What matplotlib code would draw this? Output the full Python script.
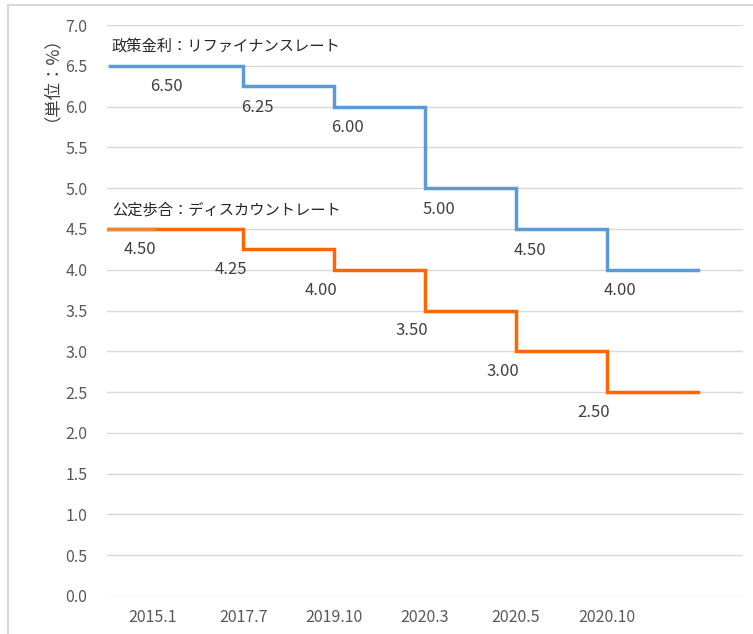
import matplotlib
matplotlib.use("Agg")
import matplotlib.pyplot as plt
from matplotlib.patches import Rectangle

plt.rcParams['font.family'] = ['Noto Sans CJK JP', 'DejaVu Sans']

categories = ["2015.1", "2017.7", "2019.10", "2020.3", "2020.5", "2020.10"]
refi_rate = [6.50, 6.25, 6.00, 5.00, 4.50, 4.00]
discount_rate = [4.50, 4.25, 4.00, 3.50, 3.00, 2.50]
refi_name = "政策金利：リファイナンスレート"
discount_name = "公定歩合：ディスカウントレート"
y_ticks = [i * 0.5 for i in range(15)]

W, H = 753, 634
fig = plt.figure(figsize=(W / 100, H / 100), dpi=100)
ax = fig.add_axes([107 / W, (H - 596) / H, (743 - 107) / W, (596 - 25) / H])

n = len(categories)
ax.set_xlim(-0.5, n + 0.5)
ax.set_ylim(0, 7)

for y in y_ticks:
    ax.axhline(y, color="#D9D9D9", lw=1.0, zorder=1)

def step_line(values, start):
    xs = [start] + list(range(1, n + 1))
    ys = list(values) + [values[-1]]
    return xs, ys

bx, by = step_line(refi_rate, -0.47)
ax.plot(bx, by, drawstyle="steps-post", color="#5B9BD5", lw=2.5, zorder=3,
        solid_joinstyle="miter")
ox, oy = step_line(discount_rate, -0.52)
ax.plot(ox, oy, drawstyle="steps-post", color="#FF6600", lw=2.5, zorder=3,
        solid_joinstyle="miter")
ax.plot([-0.52, 0.03], [discount_rate[0]] * 2, color="#F0843A", lw=2.5, zorder=4,
        solid_capstyle="butt")

for i, v in enumerate(refi_rate):
    ax.text(i + 0.15, v - 0.26, f"{v:.2f}", ha="center", va="center",
            fontsize=12, color="#404040", zorder=5)
for i, v in enumerate(discount_rate):
    ax.text(i - 0.14, v - 0.25, f"{v:.2f}", ha="center", va="center",
            fontsize=12, color="#404040", zorder=5)

ax.text(-0.445, 6.74, refi_name, ha="left", va="center", fontsize=11, color="#262626")
ax.text(-0.445, 4.73, discount_name, ha="left", va="center", fontsize=11, color="#262626")

ax.set_yticks(y_ticks)
ax.set_yticklabels([f"{y:.1f}" for y in y_ticks])
ax.set_xticks(range(n))
ax.set_xticklabels(categories)
ax.tick_params(axis="y", length=0, pad=14, labelsize=11.5, labelcolor="#595959")
ax.tick_params(axis="x", length=0, pad=9, labelsize=11.5, labelcolor="#595959")
for s in ax.spines.values():
    s.set_visible(False)

fig.text(42 / W, 1 - 70 / H, "（単位：%）", rotation=90, ha="center", va="center",
         fontsize=12.5, color="#404040")

fig.patches.append(Rectangle((8 / W, -0.1), 2, 1 - 5 / H + 0.1, transform=fig.transFigure,
                             fill=False, ec="#D9D9D9", lw=1.5))

fig.savefig("out.png", dpi=100)
